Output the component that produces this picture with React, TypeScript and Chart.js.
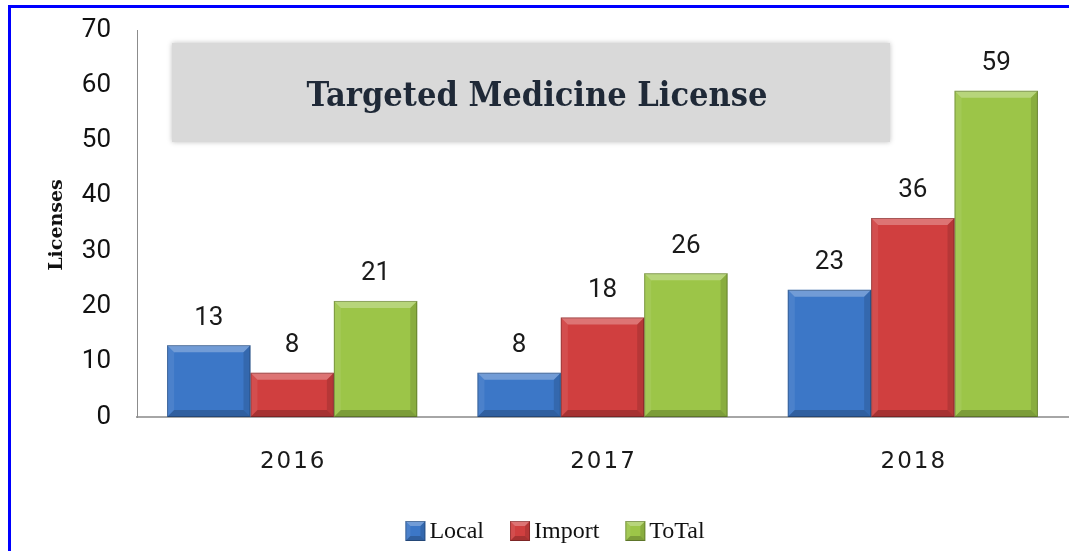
import React, { useEffect, useRef } from "react";
import { Chart, registerables } from "chart.js";

Chart.register(...registerables);

const categories = ["2016", "2017", "2018"];
const seriesNames = ["Local", "Import", "ToTal"];
const localValues = [13, 8, 23];
const importValues = [8, 18, 36];
const totalValues = [21, 26, 59];
const yTicks = [0, 10, 20, 30, 40, 50, 60, 70];
const chartTitle = "Targeted Medicine License";
const yTitle = "Licenses";

const colors = ["#3c77c7", "#d03f3f", "#9cc548"];

const W = 1069;
const H = 551;

function bevel(ctx: CanvasRenderingContext2D, L: number, T: number, R: number, B: number) {
  const b = Math.min(7, (R - L) / 4, (B - T) / 3);
  const poly = (pts: number[][], fill: string) => {
    ctx.beginPath();
    ctx.moveTo(pts[0][0], pts[0][1]);
    for (let i = 1; i < pts.length; i++) ctx.lineTo(pts[i][0], pts[i][1]);
    ctx.closePath();
    ctx.fillStyle = fill;
    ctx.fill();
  };
  poly([[L, T], [R, T], [R - b, T + b], [L + b, T + b]], "rgba(255,255,255,0.28)");
  poly([[L, T], [L + b, T + b], [L + b, B - b], [L, B]], "rgba(255,255,255,0.08)");
  poly([[R, T], [R, B], [R - b, B - b], [R - b, T + b]], "rgba(0,0,0,0.12)");
  poly([[L, B], [L + b, B - b], [R - b, B - b], [R, B]], "rgba(0,0,0,0.2)");
  ctx.strokeStyle = "rgba(0,0,0,0.25)";
  ctx.lineWidth = 1;
  ctx.strokeRect(L + 0.5, T + 0.5, R - L - 1, B - T - 1);
}

const decor = {
  id: "decor",
  beforeDraw(chart: any) {
    const ctx = chart.ctx as CanvasRenderingContext2D;
    ctx.save();
    ctx.fillStyle = "#ffffff";
    ctx.fillRect(0, 0, W, H);
    // frame
    ctx.fillStyle = "#0000ff";
    ctx.fillRect(8, 5, W - 8, 3);
    ctx.fillRect(8, 5, 3, H - 5);
    // title box
    ctx.shadowColor = "rgba(0,0,0,0.25)";
    ctx.shadowBlur = 5;
    ctx.fillStyle = "#d9d9d9";
    ctx.fillRect(172, 43, 718, 99);
    ctx.shadowBlur = 0;
    ctx.shadowColor = "transparent";
    ctx.fillStyle = "#1f2937";
    const fam = "'DejaVu Serif Condensed', 'DejaVu Serif', serif";
    ctx.font = `bold 30px ${fam}`;
    const tw = ctx.measureText(chartTitle).width;
    const size = Math.round((30 * 457) / tw);
    ctx.font = `bold ${size}px ${fam}`;
    ctx.textAlign = "center";
    ctx.textBaseline = "middle";
    ctx.fillText(chartTitle, 537, 97);
    ctx.restore();
  },
  afterDatasetsDraw(chart: any) {
    const ctx = chart.ctx as CanvasRenderingContext2D;
    ctx.save();
    chart.data.datasets.forEach((ds: any, di: number) => {
      const meta = chart.getDatasetMeta(di);
      meta.data.forEach((bar: any, i: number) => {
        const L = bar.x - bar.width / 2;
        const R = bar.x + bar.width / 2;
        const T = bar.y;
        const B = bar.base;
        bevel(ctx, L, T, R, B);
        ctx.fillStyle = "#1a1a1a";
        ctx.font = "26px Roboto, 'Open Sans', sans-serif";
        ctx.textAlign = "center";
        ctx.textBaseline = "middle";
        ctx.fillText(String(ds.data[i]), bar.x, T - 27);
      });
    });
    // x category labels with letter spacing
    const xs = chart.scales.x;
    ctx.font = "23px 'DejaVu Sans', sans-serif";
    (ctx as any).letterSpacing = "2px";
    ctx.fillStyle = "#1a1a1a";
    ctx.textAlign = "center";
    ctx.textBaseline = "middle";
    categories.forEach((c, i) => {
      ctx.fillText(c, xs.getPixelForTick(i) + 1, 462);
    });
    (ctx as any).letterSpacing = "0px";
    ctx.restore();
  },
  afterDraw(chart: any) {
    const ctx = chart.ctx as CanvasRenderingContext2D;
    ctx.save();
    // y title
    ctx.translate(57, 225);
    ctx.rotate(-Math.PI / 2);
    ctx.fillStyle = "#111111";
    ctx.font = "bold 19px 'DejaVu Serif', serif";
    ctx.textAlign = "center";
    ctx.textBaseline = "middle";
    ctx.fillText(yTitle, 0, 0);
    ctx.restore();

    // legend
    ctx.save();
    ctx.font = "24px 'Liberation Serif', serif";
    const box = 20;
    const gapText = 4;
    const gapItem = 26;
    const widths = seriesNames.map((n) => ctx.measureText(n).width);
    const total = widths.reduce((a, w) => a + box + gapText + w, 0) + gapItem * (seriesNames.length - 1);
    let x = 555 - total / 2;
    const cy = 531;
    seriesNames.forEach((n, i) => {
      ctx.fillStyle = colors[i];
      ctx.fillRect(x, cy - box / 2, box, box);
      bevel(ctx, x, cy - box / 2, x + box, cy + box / 2);
      ctx.fillStyle = "#111111";
      ctx.textAlign = "left";
      ctx.textBaseline = "middle";
      ctx.fillText(n, x + box + gapText, cy + 1);
      x += box + gapText + widths[i] + gapItem;
    });
    ctx.restore();
  },
};

export default function App() {
  const ref = useRef<HTMLCanvasElement | null>(null);
  useEffect(() => {
    if (!ref.current) return;
    const chart = new Chart(ref.current, {
      type: "bar",
      data: {
        labels: categories,
        datasets: [
          { label: seriesNames[0], data: localValues, backgroundColor: colors[0] },
          { label: seriesNames[1], data: importValues, backgroundColor: colors[1] },
          { label: seriesNames[2], data: totalValues, backgroundColor: colors[2] },
        ],
      },
      options: {
        responsive: false,
        animation: false,
        devicePixelRatio: 1,
        layout: { padding: { top: 30, right: 1, left: 0, bottom: 0 } },
        datasets: { bar: { categoryPercentage: 0.806, barPercentage: 1, borderWidth: 0 } },
        plugins: {
          legend: { display: false },
          tooltip: { enabled: false },
          title: { display: false },
        },
        scales: {
          x: {
            grid: { display: false, drawTicks: false },
            border: { display: true, color: "#a6a6a6", width: 2 },
            ticks: {
              color: "rgba(0,0,0,0)",
              padding: 34,
              font: { size: 22, family: "'DejaVu Sans', sans-serif" },
            },
            afterFit: (s: any) => {
              s.height = H - 417;
              s.paddingLeft = 0;
              s.paddingRight = 0;
            },
          },
          y: {
            min: 0,
            max: 70,
            grid: { display: false, drawTicks: false },
            border: { display: true, color: "#8c8c8c", width: 1 },
            afterBuildTicks: (s: any) => {
              s.ticks = yTicks.map((v) => ({ value: v }));
            },
            ticks: {
              color: "#111111",
              padding: 26,
              font: { size: 26, family: "Roboto, 'Open Sans', sans-serif" },
            },
            afterFit: (s: any) => {
              s.width = 137;
              s.paddingTop = 0;
              s.paddingBottom = 0;
            },
          },
        },
      },
      plugins: [decor],
    });
    return () => chart.destroy();
  }, []);
  return (
    <div style={{ position: "absolute", left: 0, top: 0, width: W, height: H }}>
      <canvas ref={ref} width={W} height={H} style={{ width: W, height: H, display: "block" }} />
    </div>
  );
}
